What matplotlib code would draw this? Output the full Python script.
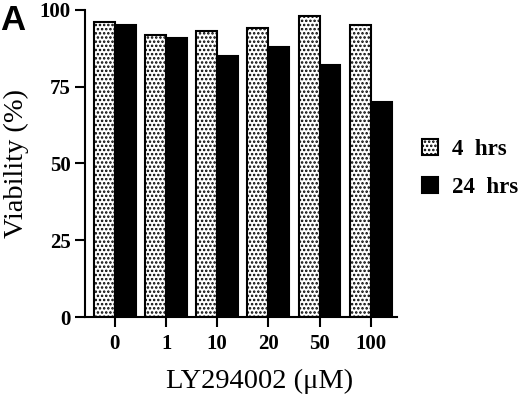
import numpy as np
import matplotlib
matplotlib.use("Agg")
import matplotlib.pyplot as plt

doses = ["0", "1", "10", "20", "50", "100"]
viab_4h = [96, 92, 93, 94, 98, 95]
viab_24h = [95, 91, 85, 88, 82, 70]
yticks = [0, 25, 50, 75, 100]

plt.rcParams["font.family"] = ["Liberation Serif", "DejaVu Serif"]
plt.rcParams["hatch.linewidth"] = 1.2

fig = plt.figure(figsize=(5.2, 3.98), dpi=100)
ax = fig.add_axes([0.163, 0.2035, 0.6, 0.7715])

x = np.arange(len(doses))
width = 0.41
ax.bar(x - width / 2, viab_4h, width=width, color="white", edgecolor="black",
       linewidth=1.5, hatch="....", label="4  hrs")
ax.bar(x + width / 2, viab_24h, width=width, color="black", edgecolor="black",
       linewidth=1.5, label="24  hrs")

ax.set_xlim(-0.59, 5.51)
ax.set_ylim(0, 100)
ax.set_yticks(yticks)
ax.set_yticklabels([str(v) for v in yticks], fontweight="bold", fontsize=15)
ax.set_xticks(x)
ax.set_xticklabels(doses, fontweight="bold", fontsize=15)
ax.tick_params(direction="out", length=7, width=1.5, pad=3)
ax.tick_params(axis="x", pad=5)
for s in ["top", "right"]:
    ax.spines[s].set_visible(False)
for s in ["left", "bottom"]:
    ax.spines[s].set_linewidth(1.5)

ax.set_ylabel("Viability (%)", fontsize=20.5, labelpad=8)
ax.set_xlabel("LY294002 (\u03bcM)", fontsize=20.5, labelpad=12)
ax.xaxis.set_label_coords(0.56, -0.17)

ax.legend(loc="upper left", bbox_to_anchor=(1.05, 0.61), frameon=False,
          handlelength=0.7, handleheight=0.7, handletextpad=0.62,
          labelspacing=0.75, borderaxespad=0, prop={"weight": "bold", "size": 16.5})

fig.text(0.0, 0.99, "A", fontsize=25, fontweight="bold", va="top", ha="left",
         family=["Liberation Sans", "DejaVu Sans"])

fig.savefig("out.png", dpi=100)
